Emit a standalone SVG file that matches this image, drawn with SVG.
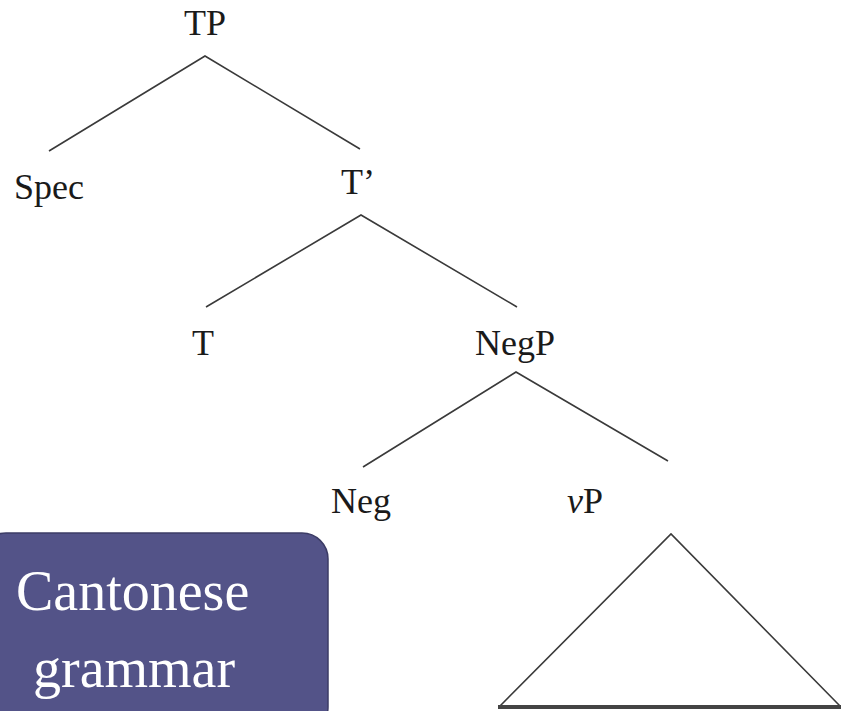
<svg xmlns="http://www.w3.org/2000/svg" width="841" height="711" viewBox="0 0 841 711">
<style>
.lbl{font-family:'Liberation Serif','DejaVu Serif',serif;font-size:36px;fill:#1a1a1a;text-anchor:middle}
.edge{stroke:#3a3a3a;stroke-width:1.6;fill:none}
.box{fill:#535388;stroke:#3c3c66;stroke-width:1.5}
.boxtxt{font-family:'Liberation Serif','DejaVu Serif',serif;font-size:56px;fill:#ffffff}
</style>
<rect width="841" height="711" fill="#ffffff"/>
<g id="connectors">
<path class="edge" d="M49 151 L205 56 L360 149"/>
<path class="edge" d="M206 307 L361 215 L517 307"/>
<path class="edge" d="M363 467 L516 372 L668 461"/>
<path class="edge" d="M500 706 L671 534 L840 706"/>
<line x1="498" y1="707" x2="841" y2="707" stroke="#444444" stroke-width="4"/>
</g>
<g id="node-TP"><text class="lbl" x="205" y="35">TP</text></g>
<g id="node-Spec"><text class="lbl" x="49" y="199">Spec</text></g>
<g id="node-Tbar"><text class="lbl" x="358" y="194">T’</text></g>
<g id="node-T"><text class="lbl" x="203" y="355">T</text></g>
<g id="node-NegP"><text class="lbl" x="515" y="355">NegP</text></g>
<g id="node-Neg"><text class="lbl" x="361" y="513">Neg</text></g>
<g id="node-vP"><text class="lbl" x="585" y="513"><tspan font-style="italic">v</tspan>P</text></g>
<g id="node-cantonese">
<rect class="box" x="-20" y="533" width="348" height="200" rx="26"/>
<text class="boxtxt" x="16" y="610">Cantonese</text>
<text class="boxtxt" x="33" y="687">grammar</text>
</g>
</svg>
